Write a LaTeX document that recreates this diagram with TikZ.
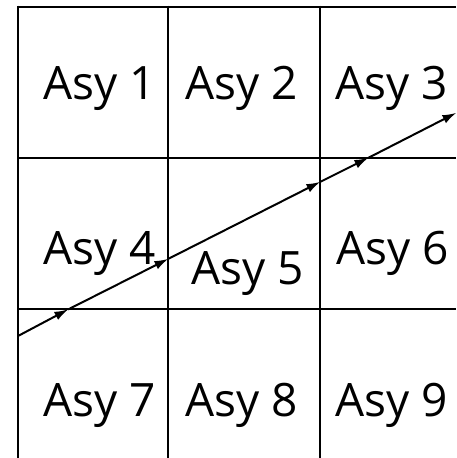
\documentclass[tikz,border=0pt]{standalone}
\usepackage{fontspec}
\setmainfont{Open Sans}
\usetikzlibrary{arrows.meta}
\begin{document}
\begin{tikzpicture}[x=1pt,y=-1pt,
  gridline/.style={line width=2.6pt,black},
  ray/.style={line width=2pt,black,-{Latex[length=14pt,width=9pt]},shorten >=-0.5pt},
  lbl/.style={anchor=base west,inner sep=0pt,font=\fontsize{46}{50}\selectfont}]
\useasboundingbox (0,0) rectangle (456,458);
% grid
\draw[gridline] (18,7) -- (456,7);
\draw[gridline] (18,158) -- (456,158);
\draw[gridline] (18,309) -- (456,309);
\draw[gridline] (18,5.7) -- (18,458);
\draw[gridline] (168,5.7) -- (168,458);
\draw[gridline] (320,5.7) -- (320,458);
% labels
\node[lbl] (a1) at (43,99) {Asy 1};
\node[lbl] (a2) at (185,99) {Asy 2};
\node[lbl] (a3) at (335,99) {Asy 3};
\node[lbl] (a4) at (43,264) {Asy 4};
\node[lbl] (a5) at (191,284) {Asy 5};
\node[lbl] (a6) at (336,264) {Asy 6};
\node[lbl] (a7) at (43,416) {Asy 7};
\node[lbl] (a8) at (185,416) {Asy 8};
\node[lbl] (a9) at (335,416) {Asy 9};
% ray
\coordinate (p0) at (18,336);
\coordinate (p1) at (68,309.5);
\coordinate (p2) at (168,259);
\coordinate (p3) at (320,182);
\coordinate (p4) at (368,158);
\coordinate (p5) at (456,113);
\draw[ray] (p0) -- (p1);
\draw[ray] (p1) -- (p2);
\draw[ray] (p2) -- (p3);
\draw[ray] (p3) -- (p4);
\draw[ray] (p4) -- (p5);
\end{tikzpicture}
\end{document}
